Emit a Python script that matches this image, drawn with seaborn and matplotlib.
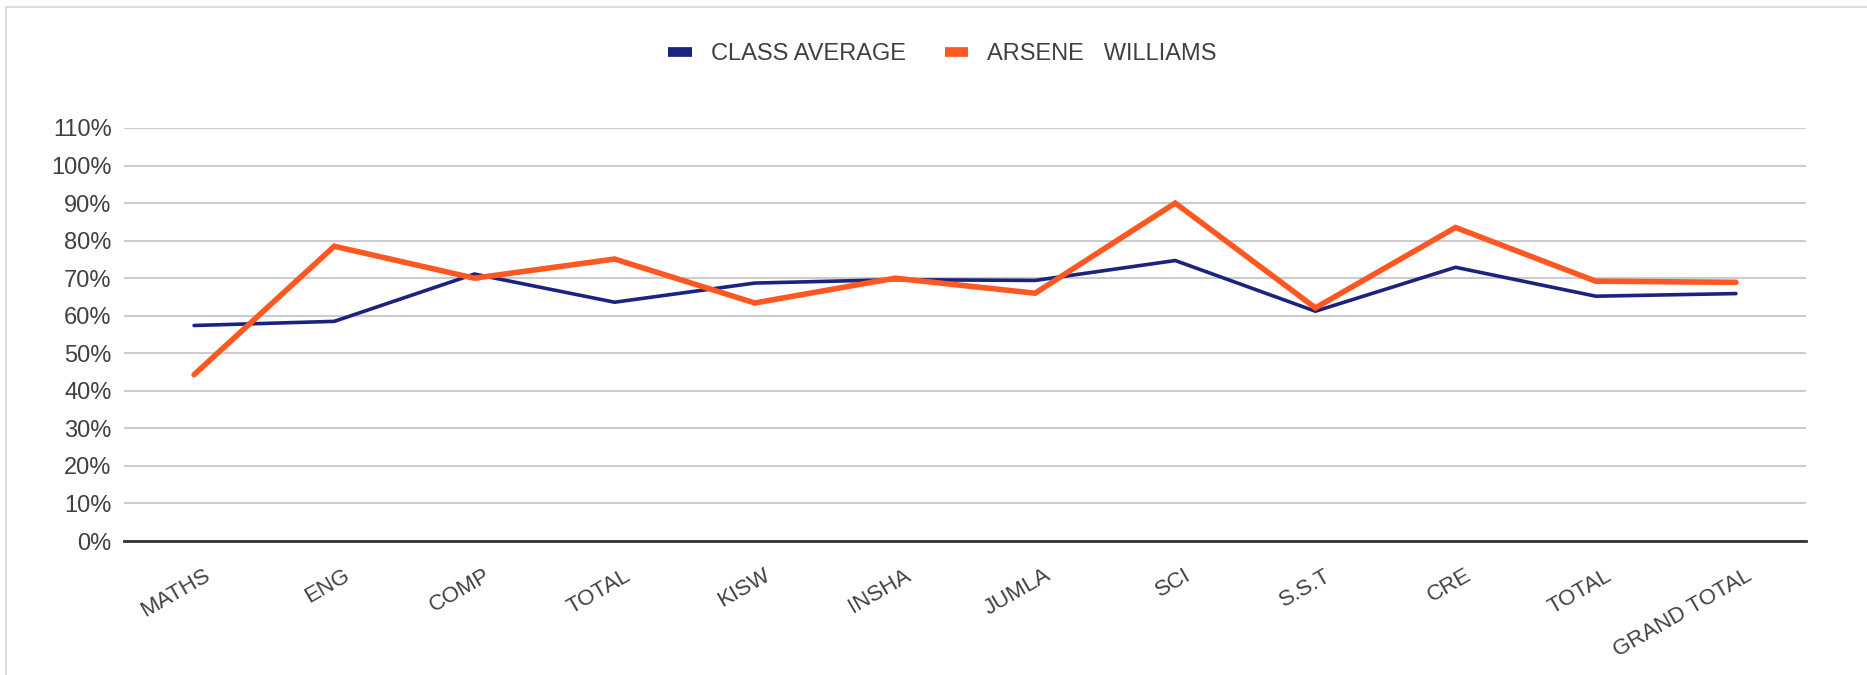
import numpy as np
import pandas as pd
import matplotlib
matplotlib.use("Agg")
import matplotlib.pyplot as plt
import matplotlib.transforms as mtransforms
from matplotlib.patches import Rectangle
from matplotlib.ticker import PercentFormatter
import seaborn as sns

# data
subjects = ["MATHS", "ENG", "COMP", "TOTAL", "KISW", "INSHA", "JUMLA",
            "SCI", "S.S.T", "CRE", "TOTAL", "GRAND TOTAL"]
class_average = [57.4, 58.5, 71.1, 63.6, 68.7, 69.6, 69.4, 74.7, 61.2, 72.9, 65.2, 65.9]
arsene_williams = [44.3, 78.5, 70.0, 75.1, 63.4, 70.0, 66.0, 90.0, 62.1, 83.5, 69.2, 68.9]
series_names = ["CLASS AVERAGE", "ARSENE   WILLIAMS"]
y_ticks = list(range(0, 111, 10))

colors = {"CLASS AVERAGE": "#1A237E", "ARSENE   WILLIAMS": "#FF5722"}
widths = {"CLASS AVERAGE": 2.6, "ARSENE   WILLIAMS": 4.0}

pos = np.arange(len(subjects))
df = pd.concat([
    pd.DataFrame({"pos": pos, "value": class_average, "series": series_names[0]}),
    pd.DataFrame({"pos": pos, "value": arsene_williams, "series": series_names[1]}),
])

sns.set_theme(style="white")
plt.rcParams["font.family"] = ["Liberation Sans", "DejaVu Sans"]

fig = plt.figure(figsize=(18.67, 6.75), dpi=100)
ax = fig.add_axes([124 / 1867, 1 - 541 / 675, (1806 - 124) / 1867, (541 - 128) / 675])

for name in series_names:
    sns.lineplot(data=df[df["series"] == name], x="pos", y="value", ax=ax,
                 color=colors[name], linewidth=widths[name], sort=False,
                 label=name, solid_joinstyle="miter", zorder=3)

ax.set_xlim(-0.5, len(subjects) - 0.5)
ax.set_ylim(0, 110)
ax.set_yticks(y_ticks)
ax.yaxis.set_major_formatter(PercentFormatter(decimals=0))
ax.grid(axis="y", color="#cccccc", linewidth=1.5)
ax.set_axisbelow(True)
for s in ["left", "right", "top"]:
    ax.spines[s].set_visible(False)
ax.spines["bottom"].set_color("#333333")
ax.spines["bottom"].set_linewidth(2.0)
ax.spines["bottom"].set_zorder(4)
ax.set_xlabel("")
ax.set_ylabel("")

# rotated category labels, anchored at their top-right corner
ax.set_xticks(pos)
ax.set_xticklabels([])
ax.tick_params(axis="x", length=0)
offset = mtransforms.ScaledTranslation(9 / 100, -24 / 100, fig.dpi_scale_trans)
trans = ax.get_xaxis_transform() + offset
for p, name in zip(pos, subjects):
    ax.text(p, 0, name, transform=trans, rotation=30, rotation_mode="anchor",
            ha="right", va="top", fontsize=16, color="#404040")

ax.tick_params(axis="y", length=0, labelsize=17, labelcolor="#404040", pad=9)

leg = ax.legend(loc="center", bbox_to_anchor=(791.5 / 1568, 1 - 54 / 675),
                bbox_transform=fig.transFigure, ncol=2, frameon=False,
                fontsize=17, handlelength=1.0, columnspacing=1.65, handletextpad=0.8)
for t in leg.get_texts():
    t.set_color("#404040")
for h in leg.get_lines():
    h.set_linewidth(7)
    h.set_solid_capstyle("butt")

fig.patches.append(Rectangle((6 / 1867, -0.1), 1.2, 1 - 7 / 675 + 0.1,
                             transform=fig.transFigure, fill=False,
                             edgecolor="#dddddd", linewidth=1.5))

plt.savefig("out.png", dpi=100)
plt.close()
